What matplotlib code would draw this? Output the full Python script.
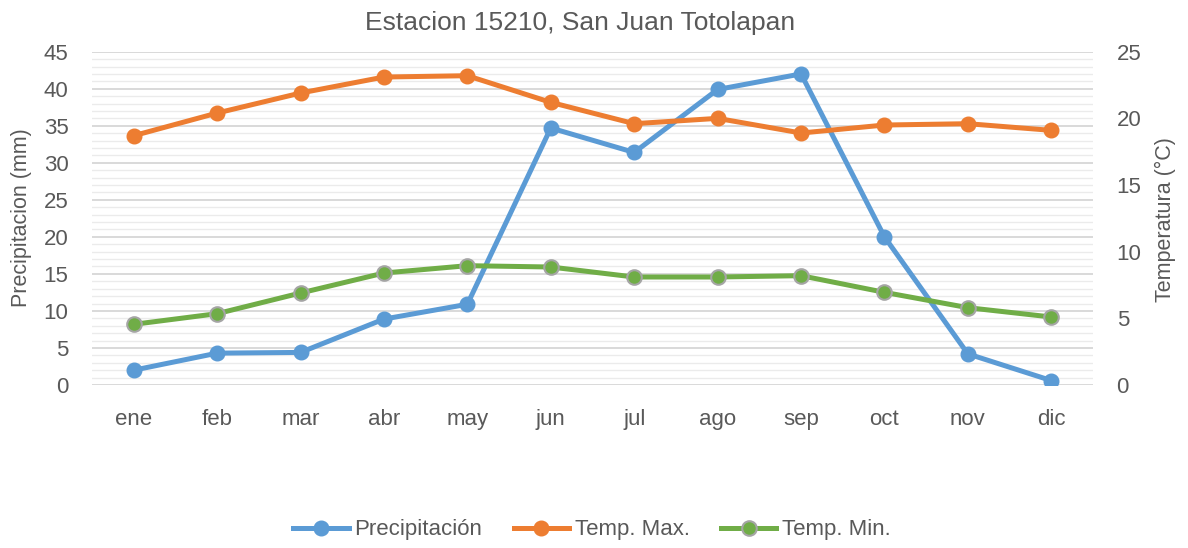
import numpy as np
import matplotlib
matplotlib.use('Agg')
import matplotlib.pyplot as plt
from matplotlib.ticker import MultipleLocator

plt.rcParams['font.family'] = ['Liberation Sans', 'DejaVu Sans']

meses = ['ene', 'feb', 'mar', 'abr', 'may', 'jun', 'jul', 'ago', 'sep', 'oct', 'nov', 'dic']
precipitacion = [2.0, 4.3, 4.4, 8.9, 10.9, 34.7, 31.4, 39.9, 42.0, 20.0, 4.2, 0.6]
temp_max = [18.7, 20.4, 21.9, 23.1, 23.2, 21.2, 19.6, 20.0, 18.9, 19.5, 19.6, 19.1]
temp_min = [4.55, 5.35, 6.9, 8.4, 8.95, 8.85, 8.1, 8.1, 8.2, 6.95, 5.8, 5.1]

txt = '#595959'
blue, orange, green = '#5B9BD5', '#ED7D31', '#70AD47'

W, H = 1188, 548
fig = plt.figure(figsize=(W / 100, H / 100), dpi=100)
ax = fig.add_axes([92 / W, 163 / H, 1001 / W, 333.3 / H])
ax2 = ax.twinx()

x = np.arange(len(meses))
ax.set_xlim(-0.5, len(meses) - 0.5)
ax.set_ylim(0, 45)
ax2.set_ylim(0, 25)

# grid: major every 5, minor every 1 (left axis)
ax.yaxis.set_major_locator(MultipleLocator(5))
ax.yaxis.set_minor_locator(MultipleLocator(1))
ax.grid(which='major', axis='y', color='#D9D9D9', linewidth=1.4)
ax.grid(which='minor', axis='y', color='#EBEBEB', linewidth=1.0)
ax.set_axisbelow(True)
ax2.yaxis.set_major_locator(MultipleLocator(5))

l1, = ax.plot(x, precipitacion, color=blue, lw=3.6, marker='o', ms=10.5,
              label='Precipitación', zorder=3)
l2, = ax2.plot(x, temp_max, color=orange, lw=3.6, marker='o', ms=10.5,
               label='Temp. Max.', zorder=3)
l3, = ax2.plot(x, temp_min, color=green, lw=3.6, marker='o', ms=10.5,
               mec='#A5A5A5', mew=1.5, label='Temp. Min.', zorder=3)

for a in (ax, ax2):
    for s in a.spines.values():
        s.set_visible(False)
    a.tick_params(axis='both', which='both', length=0, labelsize=16, colors=txt)

ax.set_xticks(x)
ax.set_xticklabels(meses)
ax.tick_params(axis='x', pad=17)
ax.tick_params(axis='y', pad=17)
ax2.tick_params(axis='y', pad=17)

# axis titles and chart title placed in figure coords
fig.text(22 / W, 1 - 218 / H, 'Precipitacion (mm)', rotation=90, ha='center',
         va='center', fontsize=15.5, color=txt)
fig.text(1165 / W, 1 - 220 / H, 'Temperatura (°C)', rotation=90, ha='center',
         va='center', fontsize=15.5, color=txt)
fig.text(580 / W, 1 - 23 / H, 'Estacion 15210, San Juan Totolapan', ha='center',
         va='center', fontsize=19, color=txt)

fig.legend(handles=[l1, l2, l3], loc='center', bbox_to_anchor=(592 / W, 1 - 530 / H),
           ncol=3, frameon=False, fontsize=16, labelcolor=txt,
           handlelength=2.5, columnspacing=1.4, handletextpad=0.25)

fig.savefig('out.png', dpi=100)
